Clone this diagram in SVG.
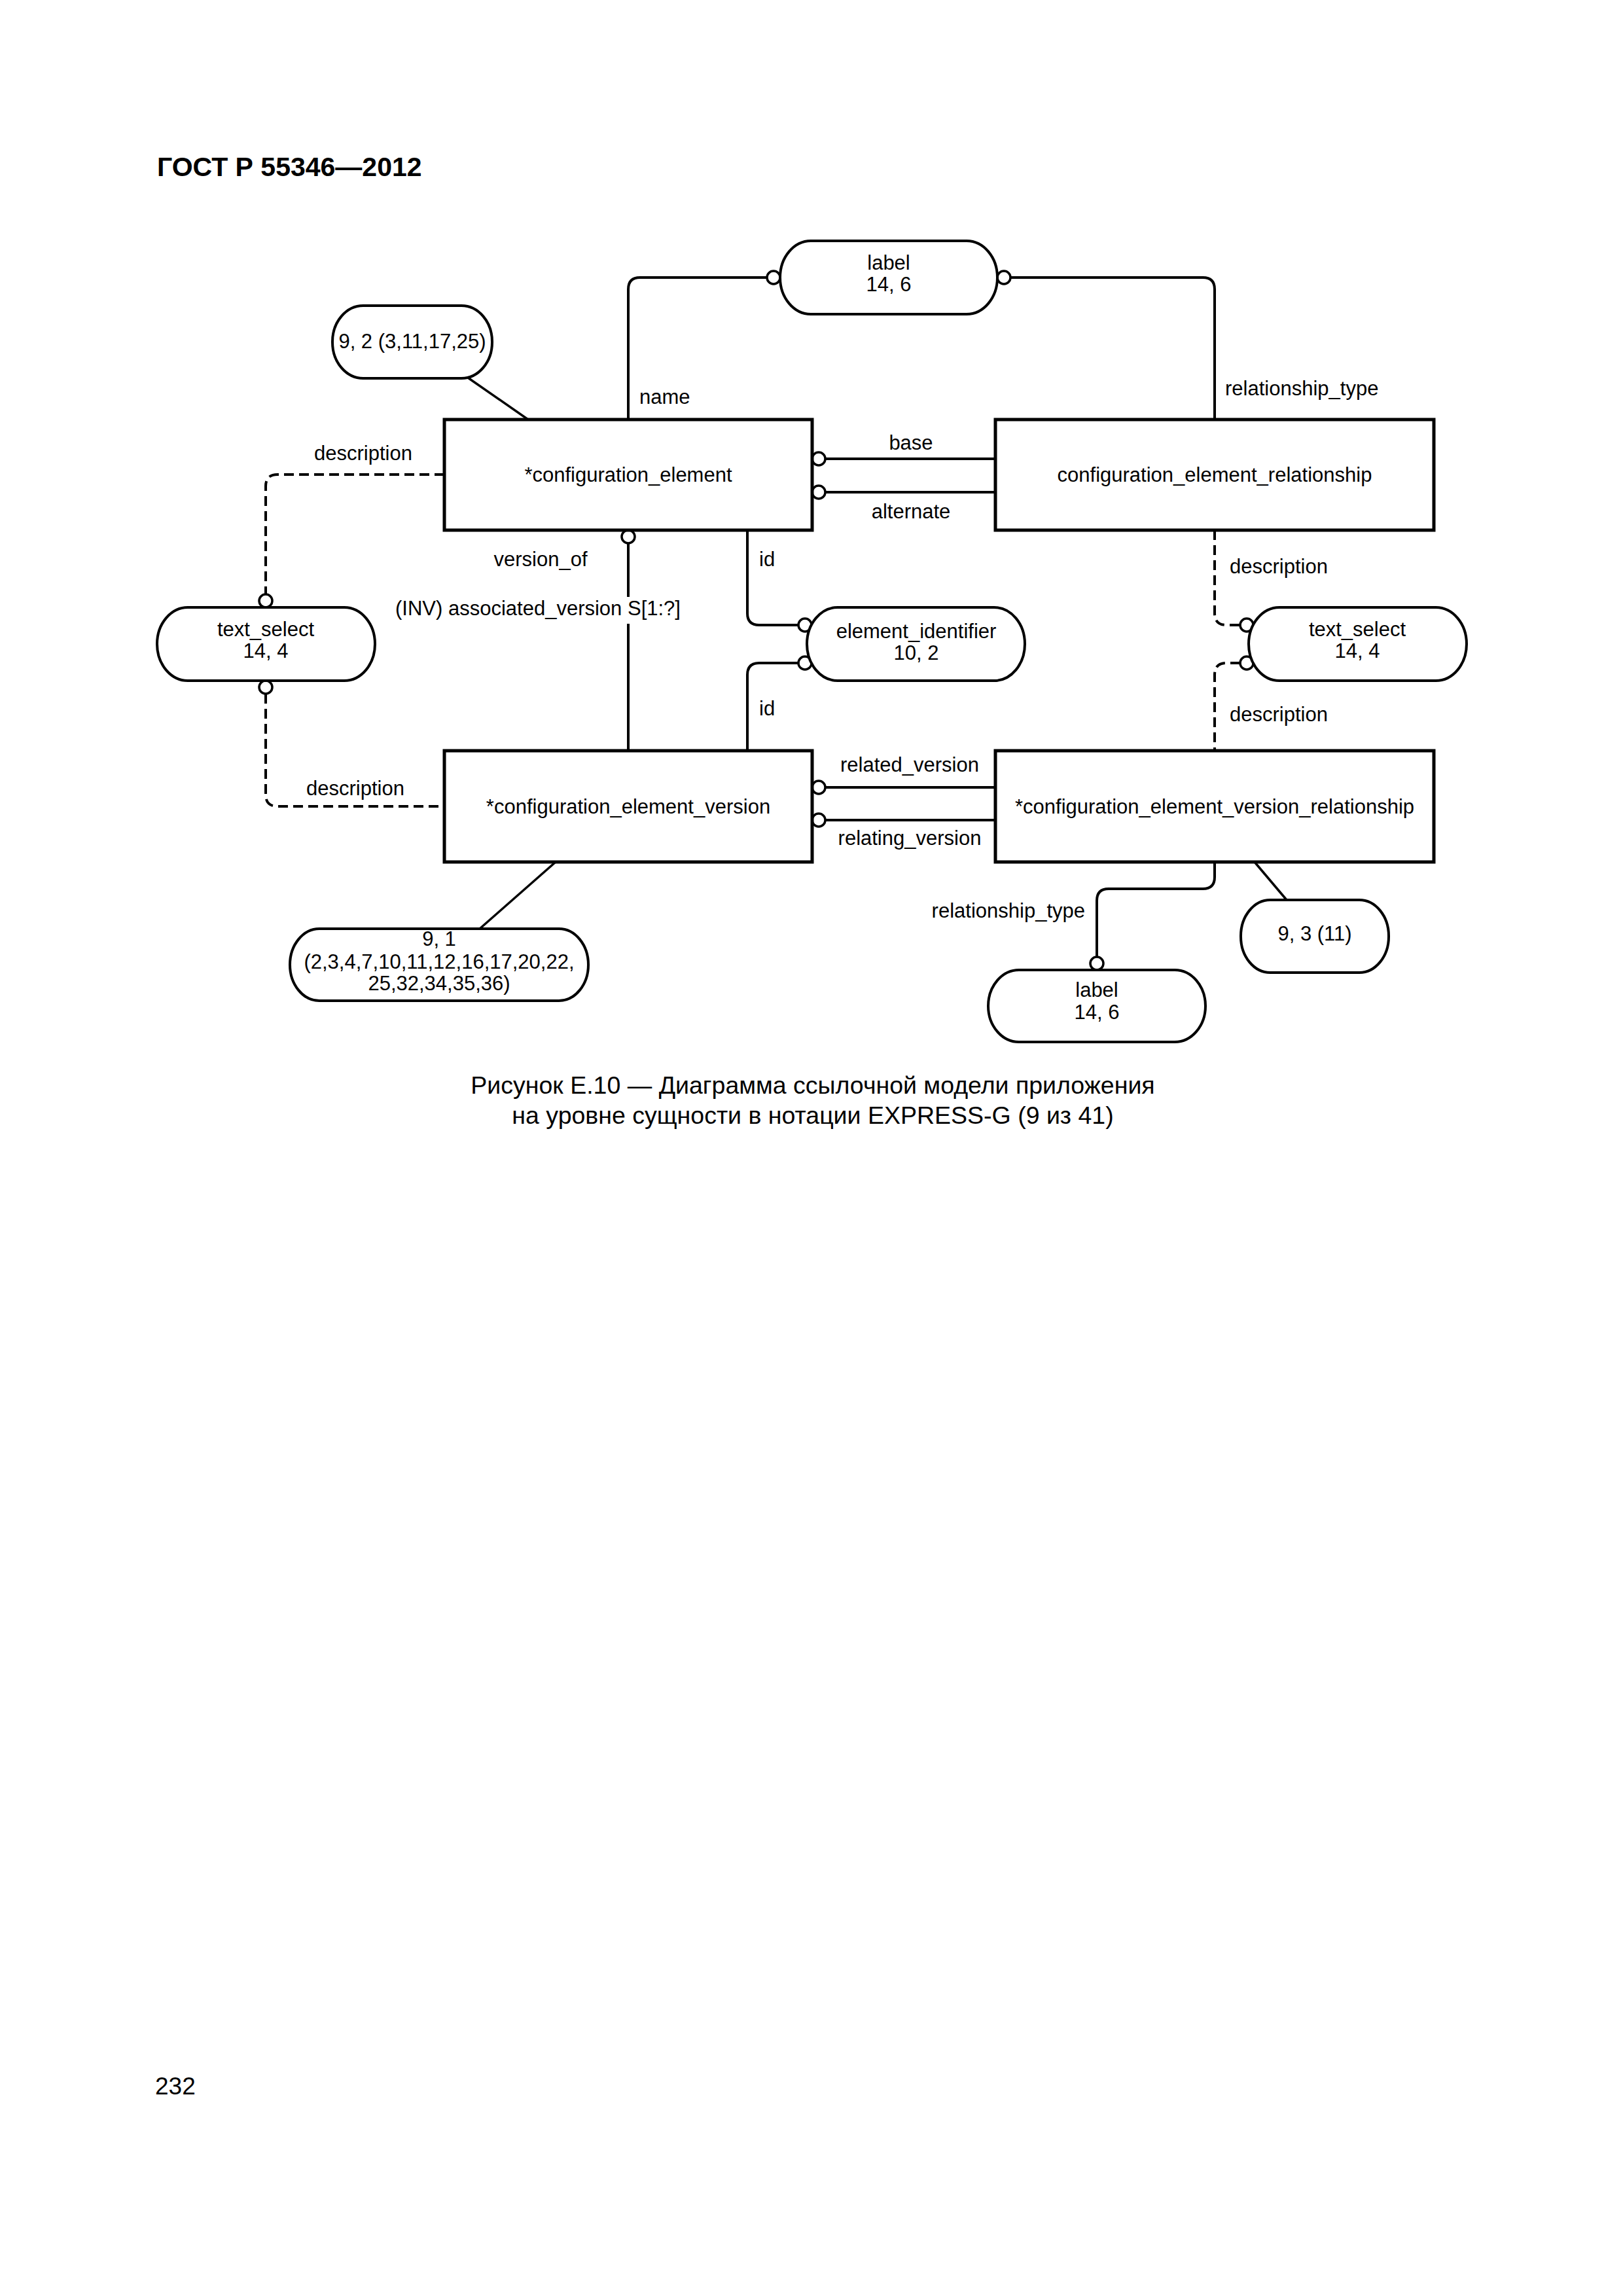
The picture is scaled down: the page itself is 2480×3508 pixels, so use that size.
<svg xmlns="http://www.w3.org/2000/svg" width="2480" height="3508" viewBox="0 0 2480 3508">
<style>
text{font-family:"Liberation Sans",Arial,sans-serif;font-size:31px;fill:#000}
.t{text-anchor:middle}
.box{fill:#fff;stroke:#000;stroke-width:5}
.pill{fill:#fff;stroke:#000;stroke-width:4}
.ln{fill:none;stroke:#000;stroke-width:4}
.thin{fill:none;stroke:#000;stroke-width:3.5}
.dash{fill:none;stroke:#000;stroke-width:4;stroke-dasharray:15 8}
.c{fill:#fff;stroke:#000;stroke-width:3.5}
</style>
<rect width="2480" height="3508" fill="#fff"/>
<text x="240" y="269" style="font-size:41px;font-weight:bold">ГОСТ Р 55346—2012</text>

<g id="connectors">
<path class="ln" d="M960,641 V442 Q960,424 978,424 H1172"/>
<path class="ln" d="M1544,424 H1838 Q1856,424 1856,442 V641"/>
<path class="ln" d="M1261,701 H1521"/>
<path class="ln" d="M1261,752 H1521"/>
<path class="dash" d="M679,725 H424 Q406,725 406,743 V908"/>
<path class="dash" d="M406,1060 V1214 Q406,1232 424,1232 H679"/>
<path class="ln" d="M960,830 V912"/>
<path class="ln" d="M960,953 V1147"/>
<path class="ln" d="M1142,810 V937 Q1142,955 1160,955 H1220"/>
<path class="ln" d="M1220,1013 H1160 Q1142,1013 1142,1031 V1147"/>
<path class="dash" d="M1856,810 V937 Q1856,955 1874,955 H1895"/>
<path class="dash" d="M1895,1013 H1874 Q1856,1013 1856,1031 V1147"/>
<path class="ln" d="M1261,1203 H1521"/>
<path class="ln" d="M1261,1253 H1521"/>
<path class="ln" d="M1856,1317 V1340 Q1856,1358 1838,1358 H1694 Q1676,1358 1676,1376 V1462"/>
<path class="thin" d="M712,575 L807,641"/>
<path class="thin" d="M849,1317 L733,1419"/>
<path class="thin" d="M1917,1317 L1966,1375"/>
<circle class="c" cx="1182" cy="424" r="10"/>
<circle class="c" cx="1534" cy="424" r="10"/>
<circle class="c" cx="1251" cy="701" r="10"/>
<circle class="c" cx="1251" cy="752" r="10"/>
<circle class="c" cx="406" cy="918" r="10"/>
<circle class="c" cx="406" cy="1050" r="10"/>
<circle class="c" cx="960" cy="820" r="10"/>
<circle class="c" cx="1230" cy="955" r="10"/>
<circle class="c" cx="1230" cy="1013" r="10"/>
<circle class="c" cx="1905" cy="955" r="10"/>
<circle class="c" cx="1905" cy="1013" r="10"/>
<circle class="c" cx="1251" cy="1203" r="10"/>
<circle class="c" cx="1251" cy="1253" r="10"/>
<circle class="c" cx="1676" cy="1472" r="10"/>
<text x="977" y="617">name</text>
<text x="1872" y="604">relationship_type</text>
<text class="t" x="555" y="703">description</text>
<text class="t" x="1392" y="687">base</text>
<text class="t" x="1392" y="792">alternate</text>
<text class="t" x="826" y="865">version_of</text>
<text class="t" x="822" y="940">(INV) associated_version S[1:?]</text>
<text x="1160" y="865">id</text>
<text x="1160" y="1093">id</text>
<text x="1879" y="876">description</text>
<text x="1879" y="1102">description</text>
<text class="t" x="543" y="1215">description</text>
<text class="t" x="1390" y="1179">related_version</text>
<text class="t" x="1390" y="1291">relating_version</text>
<text x="1658" y="1402" style="text-anchor:end">relationship_type</text>
</g>

<g id="label_top">
<rect class="pill" x="1192" y="368" width="332" height="112" rx="47" ry="56"/>
<text class="t" x="1358" y="412">label</text>
<text class="t" x="1358" y="445">14, 6</text>
</g>
<g id="ref_9_2">
<rect class="pill" x="508" y="467" width="244" height="111" rx="47" ry="55"/>
<text class="t" x="630" y="532">9, 2 (3,11,17,25)</text>
</g>
<g id="configuration_element">
<rect class="box" x="679" y="641" width="562" height="169"/>
<text class="t" x="960" y="736">*configuration_element</text>
</g>
<g id="configuration_element_relationship">
<rect class="box" x="1521" y="641" width="670" height="169"/>
<text class="t" x="1856" y="736">configuration_element_relationship</text>
</g>
<g id="text_select_left">
<rect class="pill" x="240" y="928" width="333" height="112" rx="47" ry="56"/>
<text class="t" x="406" y="972">text_select</text>
<text class="t" x="406" y="1005">14, 4</text>
</g>
<g id="element_identifier">
<rect class="pill" x="1233" y="928" width="333" height="112" rx="47" ry="56"/>
<text class="t" x="1400" y="975">element_identifier</text>
<text class="t" x="1400" y="1008">10, 2</text>
</g>
<g id="text_select_right">
<rect class="pill" x="1908" y="928" width="333" height="112" rx="47" ry="56"/>
<text class="t" x="2074" y="972">text_select</text>
<text class="t" x="2074" y="1005">14, 4</text>
</g>
<g id="configuration_element_version">
<rect class="box" x="679" y="1147" width="562" height="170"/>
<text class="t" x="960" y="1243">*configuration_element_version</text>
</g>
<g id="configuration_element_version_relationship">
<rect class="box" x="1521" y="1147" width="670" height="170"/>
<text class="t" x="1856" y="1243">*configuration_element_version_relationship</text>
</g>
<g id="ref_9_1">
<rect class="pill" x="443" y="1419" width="456" height="110" rx="45" ry="55"/>
<text class="t" x="671" y="1445">9, 1</text>
<text class="t" x="671" y="1480">(2,3,4,7,10,11,12,16,17,20,22,</text>
<text class="t" x="671" y="1513">25,32,34,35,36)</text>
</g>
<g id="ref_9_3">
<rect class="pill" x="1896" y="1375" width="226" height="111" rx="45" ry="55"/>
<text class="t" x="2009" y="1437">9, 3 (11)</text>
</g>
<g id="label_bottom">
<rect class="pill" x="1510" y="1482" width="332" height="110" rx="47" ry="55"/>
<text class="t" x="1676" y="1523">label</text>
<text class="t" x="1676" y="1557">14, 6</text>
</g>

<text class="t" x="1242" y="1671" style="font-size:37.5px">Рисунок Е.10 — Диаграмма ссылочной модели приложения</text>
<text class="t" x="1242" y="1717" style="font-size:37.5px">на уровне сущности в нотации EXPRESS-G (9 из 41)</text>
<text x="237" y="3200" style="font-size:37px">232</text>
</svg>
